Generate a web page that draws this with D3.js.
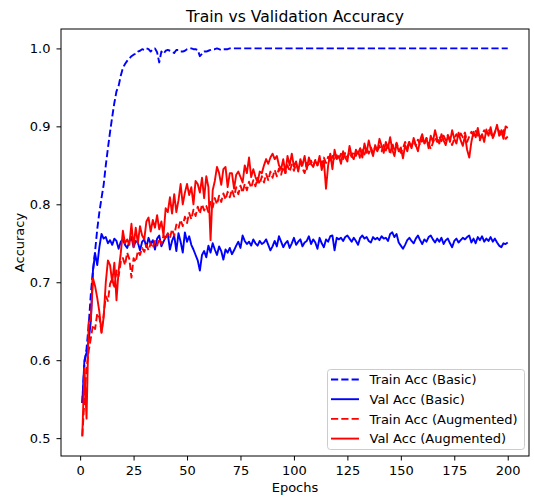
<!DOCTYPE html>
<html>
<head>
<meta charset="utf-8">
<script src="https://cdn.jsdelivr.net/npm/d3@7"></script>
<style>
  body { margin: 0; background: #fff; }
  text { font-family: "DejaVu Sans", sans-serif; }
</style>
</head>
<body>
<div id="chart"></div>
<script>
// epochs 1..200
var epochs = d3.range(1, 201);

var trainBasic = [
  0.545, 0.595, 0.615, 0.645, 0.685, 0.715, 0.740, 0.768, 0.790, 0.808,
  0.825, 0.850, 0.872, 0.893, 0.912, 0.930, 0.945, 0.952, 0.965, 0.975,
  0.980, 0.984, 0.987, 0.990, 0.992, 0.993, 0.996, 0.997, 0.999, 0.998,
  1.000, 0.999, 0.996, 0.999, 1.000, 0.995, 0.982, 0.996, 0.993, 0.997,
  0.998, 0.997, 0.996, 0.994, 0.998, 0.998, 0.996, 0.996, 0.997, 0.999,
  1.000, 1.000, 0.999, 0.999, 0.998, 0.990, 0.993, 0.996, 0.996, 0.997,
  0.998, 0.999, 0.999, 1.000, 0.999, 0.998, 0.999, 0.999, 0.999, 1.000,
  1.000, 1.000, 1.000, 1.000, 1.000, 1.000, 1.000, 1.000, 1.000, 1.000,
  1.000, 1.000, 1.000, 1.000, 1.000, 1.000, 1.000, 1.000, 1.000, 1.000,
  1.000, 1.000, 1.000, 1.000, 1.000, 1.000, 1.000, 1.000, 1.000, 1.000,
  1.000, 1.000, 1.000, 1.000, 1.000, 1.000, 1.000, 1.000, 1.000, 1.000,
  1.000, 1.000, 1.000, 1.000, 1.000, 1.000, 1.000, 1.000, 1.000, 1.000,
  1.000, 1.000, 1.000, 1.000, 1.000, 1.000, 1.000, 1.000, 1.000, 1.000,
  1.000, 1.000, 1.000, 1.000, 1.000, 1.000, 1.000, 1.000, 1.000, 1.000,
  1.000, 1.000, 1.000, 1.000, 1.000, 1.000, 1.000, 1.000, 1.000, 1.000,
  1.000, 1.000, 1.000, 1.000, 1.000, 1.000, 1.000, 1.000, 1.000, 1.000,
  1.000, 1.000, 1.000, 1.000, 1.000, 1.000, 1.000, 1.000, 1.000, 1.000,
  1.000, 1.000, 1.000, 1.000, 1.000, 1.000, 1.000, 1.000, 1.000, 1.000,
  1.000, 1.000, 1.000, 1.000, 1.000, 1.000, 1.000, 1.000, 1.000, 1.000,
  1.000, 1.000, 1.000, 1.000, 1.000, 1.000, 1.000, 1.000, 1.000, 1.000
];

var valBasic = [
  0.545, 0.600, 0.610, 0.625, 0.650, 0.715, 0.737, 0.722, 0.745, 0.762,
  0.756, 0.758, 0.750, 0.754, 0.748, 0.756, 0.753, 0.743, 0.752, 0.755,
  0.748, 0.744, 0.752, 0.758, 0.745, 0.753, 0.751, 0.741, 0.752, 0.755,
  0.745, 0.757, 0.749, 0.754, 0.742, 0.756, 0.760, 0.746, 0.752, 0.758,
  0.762, 0.742, 0.753, 0.760, 0.740, 0.763, 0.752, 0.738, 0.764, 0.752,
  0.759, 0.748, 0.742, 0.735, 0.728, 0.715, 0.735, 0.740, 0.732, 0.747,
  0.738, 0.750, 0.742, 0.735, 0.746, 0.740, 0.729, 0.742, 0.738, 0.744,
  0.736, 0.741, 0.747, 0.752, 0.744, 0.760, 0.753, 0.749, 0.752, 0.747,
  0.755, 0.750, 0.747, 0.753, 0.749, 0.751, 0.755, 0.748, 0.741, 0.746,
  0.753, 0.746, 0.759, 0.752, 0.745, 0.750, 0.753, 0.744, 0.750, 0.757,
  0.748, 0.752, 0.755, 0.746, 0.751, 0.753, 0.759, 0.749, 0.755, 0.751,
  0.743, 0.757, 0.750, 0.745, 0.755, 0.752, 0.759, 0.760, 0.741, 0.757,
  0.755, 0.757, 0.753, 0.758, 0.760, 0.756, 0.752, 0.757, 0.753, 0.748,
  0.757, 0.760, 0.756, 0.758, 0.753, 0.751, 0.758, 0.755, 0.757, 0.754,
  0.759, 0.756, 0.757, 0.753, 0.762, 0.764, 0.758, 0.762, 0.751, 0.747,
  0.743, 0.748, 0.754, 0.757, 0.753, 0.750, 0.756, 0.760, 0.754, 0.749,
  0.755, 0.752, 0.758, 0.760, 0.755, 0.751, 0.756, 0.752, 0.757, 0.749,
  0.754, 0.756, 0.750, 0.745, 0.753, 0.756, 0.751, 0.754, 0.757, 0.755,
  0.758, 0.760, 0.751, 0.756, 0.750, 0.758, 0.754, 0.759, 0.752, 0.756,
  0.753, 0.758, 0.752, 0.756, 0.751, 0.747, 0.745, 0.750, 0.749, 0.751
];

var trainAug = [
  0.503, 0.548, 0.590, 0.612, 0.628, 0.645, 0.640, 0.660, 0.655, 0.636,
  0.658, 0.682, 0.676, 0.698, 0.705, 0.692, 0.715, 0.708, 0.726, 0.731,
  0.722, 0.738, 0.730, 0.706, 0.731, 0.726, 0.740, 0.735, 0.744, 0.739,
  0.748, 0.741, 0.750, 0.744, 0.753, 0.747, 0.756, 0.749, 0.760, 0.754,
  0.763, 0.757, 0.768, 0.760, 0.774, 0.769, 0.780, 0.772, 0.784, 0.776,
  0.789, 0.781, 0.793, 0.785, 0.797, 0.788, 0.800, 0.792, 0.798, 0.790,
  0.803, 0.796, 0.808, 0.800, 0.811, 0.803, 0.814, 0.806, 0.816, 0.809,
  0.819, 0.810, 0.822, 0.813, 0.824, 0.815, 0.826, 0.818, 0.829, 0.821,
  0.831, 0.823, 0.834, 0.826, 0.836, 0.828, 0.839, 0.831, 0.842, 0.834,
  0.844, 0.836, 0.846, 0.838, 0.848, 0.840, 0.850, 0.842, 0.851, 0.843,
  0.852, 0.845, 0.854, 0.846, 0.840, 0.853, 0.848, 0.856, 0.849, 0.857,
  0.850, 0.858, 0.852, 0.860, 0.853, 0.861, 0.855, 0.862, 0.856, 0.863,
  0.857, 0.865, 0.858, 0.866, 0.860, 0.867, 0.861, 0.868, 0.862, 0.869,
  0.858, 0.870, 0.864, 0.872, 0.865, 0.873, 0.866, 0.874, 0.867, 0.875,
  0.868, 0.876, 0.869, 0.877, 0.864, 0.878, 0.870, 0.879, 0.871, 0.866,
  0.872, 0.880, 0.873, 0.881, 0.874, 0.882, 0.875, 0.883, 0.876, 0.884,
  0.877, 0.885, 0.878, 0.871, 0.879, 0.886, 0.880, 0.887, 0.881, 0.888,
  0.882, 0.889, 0.883, 0.876, 0.884, 0.890, 0.885, 0.891, 0.886, 0.892,
  0.880, 0.887, 0.893, 0.888, 0.894, 0.889, 0.882, 0.890, 0.895, 0.891,
  0.896, 0.892, 0.885, 0.893, 0.897, 0.894, 0.888, 0.895, 0.884, 0.887
];

var valAug = [
  0.502, 0.590, 0.525, 0.649, 0.652, 0.705, 0.695, 0.680, 0.662, 0.635,
  0.655, 0.700, 0.728, 0.722, 0.700, 0.725, 0.677, 0.715, 0.737, 0.766,
  0.750, 0.755, 0.748, 0.775, 0.745, 0.770, 0.750, 0.772, 0.760, 0.755,
  0.778, 0.783, 0.765, 0.780, 0.770, 0.786, 0.768, 0.778, 0.760, 0.795,
  0.790, 0.809, 0.788, 0.813, 0.790, 0.805, 0.826, 0.800, 0.815, 0.826,
  0.812, 0.822, 0.800, 0.830, 0.826, 0.815, 0.834, 0.808, 0.836, 0.822,
  0.754, 0.818, 0.830, 0.848, 0.840, 0.825, 0.845, 0.848, 0.822, 0.840,
  0.840, 0.820, 0.838, 0.842, 0.835, 0.828, 0.850, 0.840, 0.860, 0.835,
  0.845, 0.835, 0.828, 0.842, 0.840, 0.850, 0.858, 0.852, 0.860, 0.865,
  0.858, 0.862, 0.850, 0.845, 0.858, 0.840, 0.862, 0.850, 0.865, 0.848,
  0.855, 0.842, 0.858, 0.850, 0.862, 0.845, 0.860, 0.852, 0.848, 0.856,
  0.850, 0.862, 0.844, 0.856, 0.820, 0.850, 0.865, 0.845, 0.870, 0.858,
  0.862, 0.852, 0.868, 0.860, 0.855, 0.875, 0.862, 0.858, 0.870, 0.865,
  0.872, 0.860, 0.878, 0.866, 0.882, 0.870, 0.862, 0.876, 0.868, 0.884,
  0.875, 0.866, 0.880, 0.872, 0.886, 0.870, 0.862, 0.878, 0.868, 0.873,
  0.859, 0.876, 0.868, 0.880, 0.872, 0.885, 0.876, 0.868, 0.882, 0.890,
  0.878, 0.885, 0.872, 0.888, 0.880, 0.895, 0.884, 0.878, 0.890, 0.882,
  0.876, 0.888, 0.880, 0.895, 0.884, 0.878, 0.892, 0.882, 0.875, 0.888,
  0.870, 0.860, 0.880, 0.893, 0.886, 0.898, 0.884, 0.890, 0.880, 0.896,
  0.888, 0.899, 0.885, 0.892, 0.902, 0.888, 0.895, 0.884, 0.900, 0.898
];

var xTicks = [0, 25, 50, 75, 100, 125, 150, 175, 200];
var yTicks = [0.5, 0.6, 0.7, 0.8, 0.9, 1.0];

var seriesNames = ["Train Acc (Basic)", "Val Acc (Basic)", "Train Acc (Augmented)", "Val Acc (Augmented)"];
var seriesColors = ["#0000ff", "#0000ff", "#ff0000", "#ff0000"];
var seriesDashed = [true, false, true, false];
var seriesValues = [trainBasic, valBasic, trainAug, valAug];

var plotL = 61, plotT = 29, plotR = 529, plotB = 456;
var fs = 13;
var dash = "7.2,3.1";

var svg = d3.select("#chart")
  .append("svg")
    .attr("width", 534)
    .attr("height", 499);

// matplotlib style 5% margins
var x = d3.scaleLinear()
  .domain([1 - 199 * 0.05, 200 + 199 * 0.05])
  .range([plotL, plotR]);

var yMin = 0.502, yMax = 1.0;
var y = d3.scaleLinear()
  .domain([yMin - (yMax - yMin) * 0.05, yMax + (yMax - yMin) * 0.05])
  .range([plotB, plotT]);

// axes
var xAxis = svg.append("g")
  .attr("transform", "translate(0," + plotB + ")")
  .call(d3.axisBottom(x).tickValues(xTicks).tickSize(4.5).tickPadding(5).tickSizeOuter(0));

var yAxis = svg.append("g")
  .attr("transform", "translate(" + plotL + ",0)")
  .call(d3.axisLeft(y).tickValues(yTicks).tickFormat(d3.format(".1f")).tickSize(4.5).tickPadding(6).tickSizeOuter(0));

[xAxis, yAxis].forEach(function(g) {
  g.select(".domain").remove();
  g.selectAll("line").attr("stroke", "#000").attr("stroke-width", 1);
  g.selectAll("text")
    .attr("fill", "#000")
    .attr("font-size", fs)
    .attr("font-family", "DejaVu Sans");
});

// lines
svg.append("clipPath").attr("id", "clip")
  .append("rect")
    .attr("x", plotL).attr("y", plotT)
    .attr("width", plotR - plotL).attr("height", plotB - plotT);

var line = d3.line()
  .x(function(d, i) { return x(epochs[i]); })
  .y(function(d) { return y(d); });

seriesValues.forEach(function(vals, k) {
  svg.append("path")
    .datum(vals)
    .attr("clip-path", "url(#clip)")
    .attr("fill", "none")
    .attr("stroke", seriesColors[k])
    .attr("stroke-width", 1.9)
    .attr("stroke-linejoin", "round")
    .attr("stroke-dasharray", seriesDashed[k] ? dash : null)
    .attr("d", line);
});

// frame
svg.append("rect")
  .attr("x", plotL)
  .attr("y", plotT)
  .attr("width", plotR - plotL)
  .attr("height", plotB - plotT)
  .attr("fill", "none")
  .attr("stroke", "#000")
  .attr("stroke-width", 1);

// title and labels
svg.append("text")
  .attr("x", (plotL + plotR) / 2)
  .attr("y", 21.5)
  .attr("text-anchor", "middle")
  .attr("font-size", 15.6)
  .text("Train vs Validation Accuracy");

svg.append("text")
  .attr("x", (plotL + plotR) / 2)
  .attr("y", 492)
  .attr("text-anchor", "middle")
  .attr("font-size", fs)
  .text("Epochs");

svg.append("text")
  .attr("transform", "translate(24," + (plotT + plotB) / 2 + ") rotate(-90)")
  .attr("text-anchor", "middle")
  .attr("font-size", fs)
  .text("Accuracy");

// legend
var legend = svg.append("g");

legend.append("rect")
  .attr("x", 327.5)
  .attr("y", 369.5)
  .attr("width", 197)
  .attr("height", 80)
  .attr("rx", 3)
  .attr("ry", 3)
  .attr("fill", "#fff")
  .attr("fill-opacity", 0.8)
  .attr("stroke", "#cccccc")
  .attr("stroke-width", 1);

seriesNames.forEach(function(name, k) {
  var ly = 379.5 + k * 19.7;
  legend.append("line")
    .attr("x1", 331)
    .attr("x2", 359)
    .attr("y1", ly)
    .attr("y2", ly)
    .attr("stroke", seriesColors[k])
    .attr("stroke-width", 1.9)
    .attr("stroke-dasharray", seriesDashed[k] ? dash : null);
  legend.append("text")
    .attr("x", 369.5)
    .attr("y", ly + 4.7)
    .attr("font-size", fs)
    .text(name);
});
</script>
</body>
</html>
